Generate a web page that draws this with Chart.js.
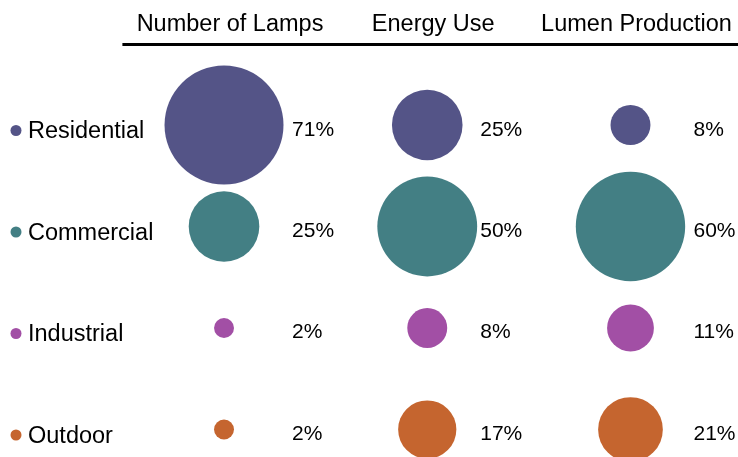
<!DOCTYPE html>
<html>
<head>
<meta charset="utf-8">
<script src="https://cdn.jsdelivr.net/npm/chart.js@4/dist/chart.umd.min.js"></script>
<style>
  html, body { margin: 0; padding: 0; background: #ffffff; }
  #wrap { width: 738px; height: 457px; position: relative; }
</style>
</head>
<body>
<div id="wrap"><canvas id="c"></canvas></div>
<script>
// ---- Data ----
const categories = ['Residential', 'Commercial', 'Industrial', 'Outdoor'];
const metrics = ['Number of Lamps', 'Energy Use', 'Lumen Production'];
const numberOfLamps = [71, 25, 2, 2];
const energyUse = [25, 50, 8, 17];
const lumenProduction = [8, 60, 11, 21];
const colors = ['#545487', '#437F84', '#A24FA5', '#C5652F'];

// ---- Styling constants ----
const FONT = '"Liberation Sans", Arial, Helvetica, sans-serif';
const radiusPerSqrt = 7.06;          // bubble area proportional to value
const labelOffsetPx = [68, 53, 63];  // value label left edge offset from bubble centre, per column

const seriesByMetric = [numberOfLamps, energyUse, lumenProduction];

const datasets = categories.map((cat, ci) => ({
  label: cat,
  backgroundColor: colors[ci],
  borderWidth: 0,
  hoverBorderWidth: 0,
  data: metrics.map((m, mi) => ({
    x: mi,
    y: ci,
    r: radiusPerSqrt * Math.sqrt(seriesByMetric[mi][ci]),
    v: seriesByMetric[mi][ci]
  }))
}));

const overlay = {
  id: 'overlay',
  afterDatasetsDraw(chart) {
    const ctx = chart.ctx;
    const xs = chart.scales.x, ys = chart.scales.y;
    const area = chart.chartArea;
    ctx.save();
    ctx.fillStyle = '#000';

    // Column headers
    ctx.font = '23.5px ' + FONT;
    ctx.textAlign = 'center';
    ctx.textBaseline = 'alphabetic';
    metrics.forEach((m, mi) => {
      ctx.fillText(m, xs.getPixelForValue(mi) + 6, 31);
    });

    // Header rule
    ctx.strokeStyle = '#000';
    ctx.lineWidth = 3;
    ctx.beginPath();
    ctx.moveTo(area.left, 44.5);
    ctx.lineTo(chart.width, 44.5);
    ctx.stroke();

    // Row labels with bullets
    ctx.textAlign = 'left';
    categories.forEach((cat, ci) => {
      const y = ys.getPixelForValue(ci);
      ctx.fillStyle = colors[ci];
      ctx.beginPath();
      ctx.arc(16, y + 5.5, 5.5, 0, Math.PI * 2);
      ctx.fill();
      ctx.fillStyle = '#000';
      ctx.font = '23.5px ' + FONT;
      ctx.fillText(cat, 28, y + 13.3);
    });

    // Value labels
    ctx.font = '21px ' + FONT;
    chart.data.datasets.forEach((ds) => {
      ds.data.forEach((p, mi) => {
        const px = xs.getPixelForValue(p.x) + labelOffsetPx[mi];
        const py = ys.getPixelForValue(p.y) + 10.5;
        ctx.fillText(p.v + '%', px, py);
      });
    });
    ctx.restore();
  }
};

new Chart(document.getElementById('c'), {
  type: 'bubble',
  data: { datasets },
  options: {
    responsive: true,
    maintainAspectRatio: false,
    animation: false,
    events: [],
    layout: { autoPadding: false, padding: { left: 122.4, right: 5.9, top: 50, bottom: 0 } },
    plugins: { legend: { display: false }, tooltip: { enabled: false } },
    scales: {
      x: { type: 'linear', min: -0.5, max: 2.5, display: false },
      y: { type: 'linear', min: -0.739, max: 3.271, reverse: true, display: false }
    }
  },
  plugins: [overlay]
});
</script>
</body>
</html>
